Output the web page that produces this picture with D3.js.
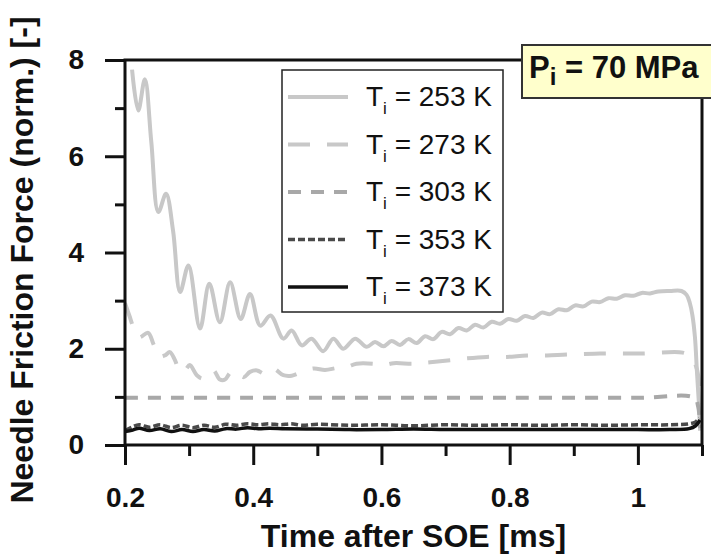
<!DOCTYPE html>
<html>
<head>
<meta charset="utf-8">
<script src="https://cdn.jsdelivr.net/npm/d3@7"></script>
<style>
body { margin: 0; background: #fff; }
text { font-family: "Liberation Sans", Arial, sans-serif; fill: #111; }
</style>
</head>
<body>
<svg id="chart"></svg>
<script>
// values: [time after SOE in ms, normalised friction force]
var t253 = [
	[0.211, 7.80], [0.2207, 6.95], [0.231, 7.60], [0.241, 6.30], [0.252, 4.84],
	[0.264, 5.22], [0.275, 4.45], [0.286, 3.18], [0.299, 3.73], [0.317, 2.42],
	[0.3315, 3.35], [0.348, 2.55], [0.364, 3.38], [0.3805, 2.62], [0.395, 3.14],
	[0.411, 2.48], [0.427, 2.69], [0.447, 2.21], [0.460, 2.38], [0.4757, 2.07],
	[0.491, 2.21], [0.509, 1.95], [0.525, 2.21], [0.5406, 2.00], [0.559, 2.21],
	[0.577, 2.04], [0.590, 2.14], [0.603, 2.05], [0.616, 2.16], [0.629, 2.08],
	[0.642, 2.20], [0.655, 2.12], [0.668, 2.26], [0.681, 2.20], [0.694, 2.35],
	[0.707, 2.30], [0.720, 2.43], [0.733, 2.38], [0.746, 2.50], [0.759, 2.44],
	[0.772, 2.56], [0.785, 2.52], [0.798, 2.62], [0.811, 2.58], [0.824, 2.68],
	[0.837, 2.64], [0.850, 2.75], [0.863, 2.72], [0.876, 2.82], [0.889, 2.80],
	[0.902, 2.90], [0.915, 2.88], [0.928, 2.98], [0.941, 2.97], [0.954, 3.05],
	[0.967, 3.04], [0.980, 3.11], [0.993, 3.10], [1.006, 3.16], [1.019, 3.15],
	[1.032, 3.19], [1.050, 3.20], [1.068, 3.20], [1.076, 3.12], [1.081, 2.95],
	[1.085, 2.70], [1.089, 2.24], [1.092, 1.55], [1.095, 0.90], [1.097, 0.30]
];
var t273 = [
	[0.200, 2.95], [0.207, 2.68], [0.213, 2.45], [0.222, 2.24], [0.236, 2.33],
	[0.244, 2.11], [0.252, 1.84], [0.262, 1.86], [0.270, 1.93], [0.278, 1.76],
	[0.286, 1.52], [0.294, 1.56], [0.301, 1.66], [0.312, 1.45], [0.321, 1.38],
	[0.330, 1.46], [0.338, 1.55], [0.348, 1.36], [0.356, 1.36], [0.364, 1.50],
	[0.372, 1.55], [0.385, 1.41], [0.395, 1.52], [0.406, 1.55], [0.418, 1.48],
	[0.431, 1.59], [0.447, 1.45], [0.460, 1.44], [0.473, 1.50], [0.494, 1.59],
	[0.512, 1.56], [0.530, 1.60], [0.546, 1.62], [0.561, 1.69], [0.587, 1.69],
	[0.603, 1.66], [0.619, 1.70], [0.650, 1.69], [0.676, 1.72], [0.707, 1.76],
	[0.733, 1.80], [0.764, 1.83], [0.795, 1.83], [0.827, 1.86], [0.858, 1.86],
	[0.889, 1.88], [0.941, 1.90], [1.003, 1.90], [1.070, 1.92], [1.080, 1.86],
	[1.086, 1.76], [1.090, 1.66], [1.094, 1.45], [1.097, 0.30]
];
var t303 = [
	[0.200, 0.98], [0.400, 0.98], [0.600, 0.98], [0.800, 0.98], [1.000, 0.98],
	[1.088, 0.98], [1.094, 0.80], [1.097, 0.35]
];
var t353 = [
	[0.200, 0.30], [0.212, 0.38], [0.222, 0.42], [0.238, 0.37], [0.255, 0.42],
	[0.272, 0.36], [0.289, 0.41], [0.306, 0.36], [0.323, 0.41], [0.340, 0.37],
	[0.357, 0.43], [0.374, 0.41], [0.391, 0.44], [0.408, 0.42], [0.425, 0.44],
	[0.442, 0.42], [0.459, 0.44], [0.476, 0.41], [0.500, 0.43], [0.550, 0.41],
	[0.600, 0.42], [0.650, 0.40], [0.700, 0.42], [0.750, 0.41], [0.800, 0.42],
	[0.850, 0.41], [0.900, 0.42], [0.950, 0.41], [1.000, 0.42], [1.050, 0.42],
	[1.080, 0.44], [1.090, 0.48], [1.096, 0.56]
];
var t373 = [
	[0.200, 0.28], [0.212, 0.31], [0.222, 0.35], [0.238, 0.30], [0.255, 0.34],
	[0.272, 0.28], [0.289, 0.32], [0.306, 0.28], [0.323, 0.32], [0.340, 0.29],
	[0.357, 0.34], [0.374, 0.33], [0.391, 0.36], [0.408, 0.34], [0.425, 0.35],
	[0.450, 0.34], [0.500, 0.33], [0.550, 0.32], [0.600, 0.32], [0.650, 0.33],
	[0.700, 0.32], [0.750, 0.32], [0.800, 0.32], [0.850, 0.32], [0.900, 0.32],
	[0.950, 0.32], [1.000, 0.32], [1.050, 0.32], [1.080, 0.34], [1.090, 0.40],
	[1.097, 0.52]
];
var temps = ["253", "273", "303", "353", "373"];
var xMajorTicks = [0.2, 0.4, 0.6, 0.8, 1.0];
var xMinorTicks = [0.3, 0.5, 0.7, 0.9, 1.1];
var yMajorTicks = [0, 2, 4, 6, 8];
var yMinorTicks = [1, 3, 5, 7];

var margin = { top: 60, right: 9, bottom: 113, left: 125 },
	width = 711 - margin.left - margin.right,
	height = 558 - margin.top - margin.bottom;

var svg = d3.select('#chart')
	.attr('width', 711)
	.attr('height', 558);
var g = svg.append('g')
	.attr('transform', 'translate(' + margin.left + ',' + margin.top + ')');

var x = d3.scaleLinear().domain([0.2, 1.1]).range([0, width]);
var y = d3.scaleLinear().domain([0, 8]).range([height, 0]);

/* axes: major ticks carry labels, minor ticks are shorter */
var styleAxis = function(sel) {
	sel.select('.domain').remove();
	sel.selectAll('line').attr('stroke', '#111').attr('stroke-width', 3);
	sel.selectAll('text')
		.style('font-size', '28px')
		.style('font-weight', 'bold')
		.attr('fill', '#111');
};

g.append('g')
	.attr('transform', 'translate(0,' + height + ')')
	.call(d3.axisBottom(x).tickValues(xMajorTicks).tickSize(20).tickPadding(22)
		.tickFormat(function(d) { return d === 1 ? '1' : d3.format('.1f')(d); }))
	.call(styleAxis);
g.append('g')
	.attr('transform', 'translate(0,' + height + ')')
	.call(d3.axisBottom(x).tickValues(xMinorTicks).tickSize(11).tickFormat(''))
	.call(styleAxis);
g.append('g')
	.call(d3.axisLeft(y).tickValues(yMajorTicks).tickSize(20).tickPadding(21))
	.call(styleAxis);
g.append('g')
	.call(d3.axisLeft(y).tickValues(yMinorTicks).tickSize(10).tickFormat(''))
	.call(styleAxis);

/* curves */
var series = [
	{ data: t253, color: '#c8c8c8', dash: null, w: 4 },
	{ data: t273, color: '#c8c8c8', dash: '22,17', w: 4 },
	{ data: t303, color: '#a8a8a8', dash: '13,10', w: 4 },
	{ data: t353, color: '#4a4a4a', dash: '7,3', w: 3.5 },
	{ data: t373, color: '#111', dash: null, w: 3.5 }
];

var line = d3.line()
	.x(function(d) { return x(d[0]); })
	.y(function(d) { return y(d[1]); })
	.curve(d3.curveCatmullRom.alpha(0.5));

g.selectAll('.curve')
	.data(series)
	.enter().append('path')
	.attr('class', 'curve')
	.attr('fill', 'none')
	.attr('stroke', function(d) { return d.color; })
	.attr('stroke-width', function(d) { return d.w; })
	.attr('stroke-dasharray', function(d) { return d.dash; })
	.attr('d', function(d) { return line(d.data); });

/* frame */
g.append('rect')
	.attr('x', 0).attr('y', 0)
	.attr('width', width).attr('height', height)
	.attr('fill', 'none')
	.attr('stroke', '#111')
	.attr('stroke-width', 3);

/* legend */
var legend = svg.append('g').attr('transform', 'translate(282,70)');
legend.append('rect')
	.attr('width', 221).attr('height', 242)
	.attr('fill', '#fff')
	.attr('stroke', '#222')
	.attr('stroke-width', 1.5);

var rows = legend.selectAll('.row')
	.data(series)
	.enter().append('g')
	.attr('class', 'row')
	.attr('transform', function(d, i) { return 'translate(0,' + (27 + i * 47.5) + ')'; });
rows.append('line')
	.attr('x1', 6).attr('x2', 66)
	.attr('stroke', function(d) { return d.color; })
	.attr('stroke-width', function(d) { return d.w; })
	.attr('stroke-dasharray', function(d) { return d.dash; });
var lt = rows.append('text')
	.attr('x', 84).attr('y', 9)
	.style('font-size', '28px');
lt.append('tspan').text('T');
lt.append('tspan').attr('dx', 0).attr('dy', 8).style('font-size', '17px').text('i');
lt.append('tspan').attr('dy', -8)
	.text(function(d, i) { return ' = ' + temps[i] + ' K'; });

/* pressure annotation */
var note = svg.append('g').attr('transform', 'translate(522,45)');
note.append('rect')
	.attr('width', 200).attr('height', 53)
	.attr('fill', '#ffffcc')
	.attr('stroke', '#333')
	.attr('stroke-width', 2);
var nt = note.append('text')
	.attr('x', 7).attr('y', 33)
	.style('font-size', '31px')
	.style('font-weight', 'bold');
nt.append('tspan').text('P');
nt.append('tspan').attr('dy', 7).style('font-size', '24px').text('i');
nt.append('tspan').attr('dy', -7).text(' = 70 MPa');

/* axis titles */
svg.append('text')
	.attr('x', margin.left + width / 2)
	.attr('y', 547)
	.attr('text-anchor', 'middle')
	.style('font-size', '32px')
	.style('font-weight', 'bold')
	.text('Time after SOE [ms]');
svg.append('text')
	.attr('transform', 'translate(33,260) rotate(-90)')
	.attr('text-anchor', 'middle')
	.style('font-size', '32px')
	.style('font-weight', 'bold')
	.text('Needle Friction Force (norm.) [-]');
</script>
</body>
</html>
